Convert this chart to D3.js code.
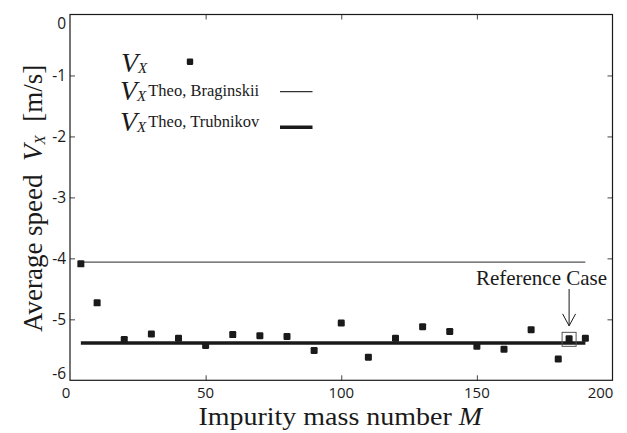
<!DOCTYPE html>
<html>
<head>
<meta charset="utf-8">
<script src="https://cdn.jsdelivr.net/npm/d3@7"></script>
<style>
  html, body { margin: 0; padding: 0; background: #fff; }
  svg { display: block; }
</style>
</head>
<body>
<svg id="chart" width="627" height="433"></svg>
<script>
// ---- data ----
const massNumbers = [4, 10, 20, 30, 40, 50, 60, 70, 80, 90, 100, 110, 120, 130, 140, 150, 160, 170, 180, 184, 190];
const speeds = [-4.09, -4.73, -5.33, -5.24, -5.31, -5.43, -5.25, -5.27, -5.28, -5.51, -5.06, -5.62, -5.31, -5.12, -5.20, -5.44, -5.49, -5.17, -5.65, -5.32, -5.31];
const theoMass = [4, 190];
const braginskii = [-4.06, -4.06];
const trubnikov = [-5.39, -5.39];
const xTicks = [0, 50, 100, 150, 200];
const yTicks = [0, -1, -2, -3, -4, -5, -6];
const referenceMass = 184;
const referenceSpeed = -5.32;

// ---- layout ----
const svg = d3.select("#chart");
const L = 70, R = 612.5, T = 14.5, B = 380.3;
const x = d3.scaleLinear().domain([0, 200]).range([L, R]);
const y = d3.scaleLinear().domain([-6, 0]).range([B, T]);
const serif = "'Liberation Serif', 'Times New Roman', serif";
const sans = "'Open Sans', 'DejaVu Sans', sans-serif";
const ink = "#1a1a1a";

// theory lines
const line = d3.line().x(d => x(d[0])).y(d => y(d[1]));
svg.append("path")
  .datum(theoMass.map((m, i) => [m, braginskii[i]]))
  .attr("d", line).attr("fill", "none").attr("stroke", "#555").attr("stroke-width", 1.3);
svg.append("path")
  .datum(theoMass.map((m, i) => [m, trubnikov[i]]))
  .attr("d", line).attr("fill", "none").attr("stroke", ink).attr("stroke-width", 3.5);

// points
const ms = 7;
svg.append("g").selectAll("rect").data(massNumbers).join("rect")
  .attr("x", (d) => x(d) - ms / 2)
  .attr("y", (d, i) => y(speeds[i]) - ms / 2)
  .attr("width", ms).attr("height", ms).attr("rx", 1.2)
  .attr("fill", ink);

// axes: inward ticks on all sides
function styleAxis(g) {
  g.select(".domain").remove();
  g.selectAll(".tick line").attr("stroke", "#444").attr("stroke-width", 1);
}
const innerX = xTicks.filter(v => v > 0 && v < 200);
const innerY = yTicks.filter(v => v > -6 && v < 0);
svg.append("g").attr("transform", `translate(0,${B})`)
  .call(d3.axisBottom(x).tickValues(innerX).tickSize(-5).tickFormat(""))
  .call(styleAxis);
svg.append("g").attr("transform", `translate(0,${T})`)
  .call(d3.axisTop(x).tickValues(innerX).tickSize(-5).tickFormat(""))
  .call(styleAxis);
svg.append("g").attr("transform", `translate(${L},0)`)
  .call(d3.axisLeft(y).tickValues(innerY).tickSize(-5).tickFormat(""))
  .call(styleAxis);
svg.append("g").attr("transform", `translate(${R},0)`)
  .call(d3.axisRight(y).tickValues(innerY).tickSize(-5).tickFormat(""))
  .call(styleAxis);

// tick labels
svg.append("g").selectAll("text").data(xTicks).join("text")
  .attr("x", (d, i) => x(d) + (i === 0 ? -4 : i === xTicks.length - 1 ? -12 : 0))
  .attr("y", 398)
  .attr("text-anchor", "middle")
  .attr("font-family", sans).attr("font-size", 15).attr("fill", ink)
  .text(d => d);
svg.append("g").selectAll("text").data(yTicks).join("text")
  .attr("x", 66)
  .attr("y", (d, i) => y(d) + 6 + (i === 0 ? 8 : i === yTicks.length - 1 ? -7 : 0))
  .attr("text-anchor", "end")
  .attr("font-family", sans).attr("font-size", 15.5).attr("fill", ink)
  .text(d => d);

// frame
svg.append("rect").attr("x", L).attr("y", T).attr("width", R - L).attr("height", B - T)
  .attr("fill", "none").attr("stroke", ink).attr("stroke-width", 1.2);

// x axis label (slightly widened to match the reference's wide serif)
const xl = svg.append("text")
  .attr("transform", `translate(${(L + R) / 2 - 1},425) scale(1.12,1)`)
  .attr("text-anchor", "middle")
  .attr("font-family", serif).attr("font-size", 25).attr("fill", ink);
xl.append("tspan").text("Impurity mass number ");
xl.append("tspan").attr("font-style", "italic").text("M");

// y axis label
const yl = svg.append("text")
  .attr("transform", `translate(42,${(T + B) / 2 + 1}) rotate(-90)`)
  .attr("text-anchor", "middle")
  .attr("font-family", serif).attr("font-size", 27).attr("fill", ink);
yl.append("tspan").text("Average speed\u2002");
yl.append("tspan").attr("font-style", "italic").text("V");
yl.append("tspan").attr("font-style", "italic").attr("font-size", 15).attr("dy", 3).text("X");
yl.append("tspan").attr("dy", -3).text("\u2002[m/s]");

// legend
function vx(g, xPos, yPos, sup) {
  const t = g.append("text").attr("x", xPos).attr("y", yPos)
    .attr("font-family", serif).attr("fill", ink);
  t.append("tspan").attr("font-style", "italic").attr("font-size", 28).text("V");
  t.append("tspan").attr("font-style", "italic").attr("font-size", 15).attr("dy", 1).text("X");
  if (sup) {
    t.append("tspan").attr("font-family", serif).attr("font-size", 16.5)
      .attr("dx", 2).attr("dy", -5).text(sup);
  }
}
const lg = svg.append("g");
vx(lg, 121, 71.5, null);
vx(lg, 120, 100, "Theo, Braginskii");
vx(lg, 120, 130.5, "Theo, Trubnikov");
lg.append("rect").attr("x", 190 - 3.2).attr("y", 61.7 - 3.2).attr("width", 6.4).attr("height", 6.4)
  .attr("rx", 1.2).attr("fill", ink);
lg.append("line").attr("x1", 280).attr("x2", 312.5).attr("y1", 91.7).attr("y2", 91.7)
  .attr("stroke", "#333").attr("stroke-width", 1.3);
lg.append("line").attr("x1", 280).attr("x2", 312.5).attr("y1", 127.3).attr("y2", 127.3)
  .attr("stroke", ink).attr("stroke-width", 3.5);

// reference case annotation
const rx = x(referenceMass), ry = y(referenceSpeed);
svg.append("rect").attr("x", rx - 7).attr("y", ry - 6.5).attr("width", 14).attr("height", 14)
  .attr("fill", "none").attr("stroke", "#555").attr("stroke-width", 1);
svg.append("text").attr("x", 541.5).attr("y", 285)
  .attr("text-anchor", "middle")
  .attr("font-family", serif).attr("font-size", 21).attr("fill", ink)
  .text("Reference Case");
svg.append("path")
  .attr("d", `M${rx},${289} L${rx},${ry - 13}`)
  .attr("stroke", ink).attr("stroke-width", 1).attr("fill", "none");
svg.append("path")
  .attr("d", `M${rx - 6.5},${ry - 25} L${rx},${ry - 13} L${rx + 6.5},${ry - 25}`)
  .attr("stroke", ink).attr("stroke-width", 1).attr("fill", "none");
</script>
</body>
</html>
